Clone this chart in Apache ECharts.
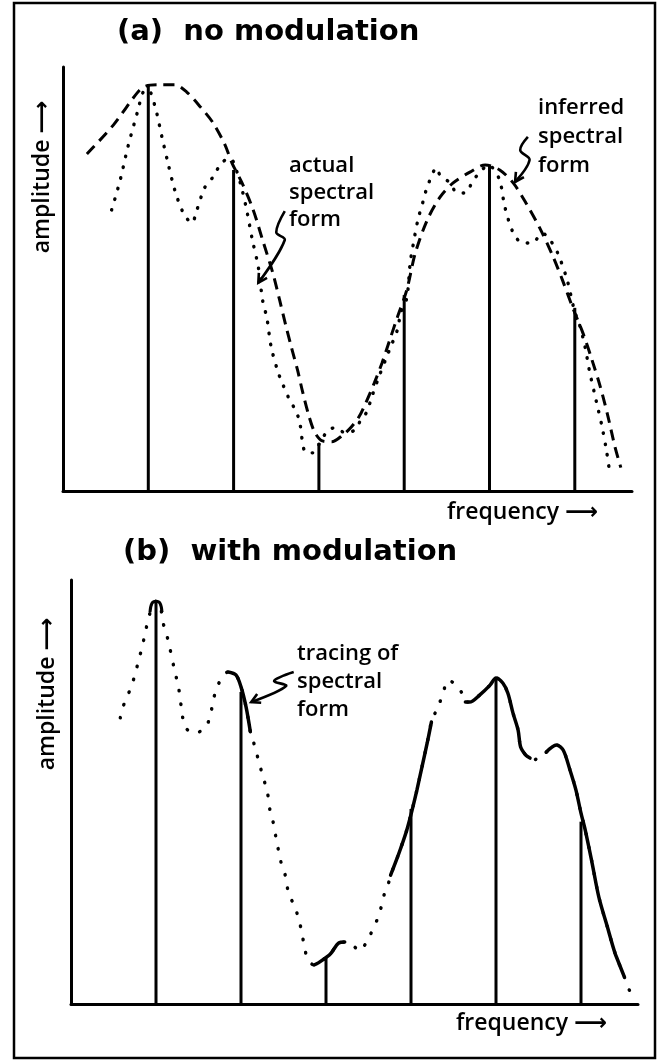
<!DOCTYPE html>
<html>
<head>
<meta charset="utf-8">
<title>Spectral form, with and without modulation</title>
<script src="https://cdn.jsdelivr.net/npm/echarts@6/dist/echarts.min.js"></script>
<style>
  html, body { margin: 0; padding: 0; background: #fff; }
  #chart { width: 664px; height: 1063px; }
</style>
</head>
<body>
<div id="chart"></div>
<script>
// frequency in units of line spacing, amplitude in % of axis height

// spectral lines
var lineFreq = [1, 2, 3, 4, 5, 6];
var lineAmpA = [95.8, 75.7, 11.3, 46.2, 76.9, 43.2];
var lineAmpB = [95.0, 73.6, 11.1, 46.0, 76.9, 43.0];

// (a) inferred spectral form (dashed)
var inferredFreqA = [0.28, 0.59, 0.87, 0.97, 1.14, 1.31, 1.45, 1.61, 1.76, 1.90, 1.98, 2.10, 2.23, 2.34, 2.46,
  2.54, 2.61, 2.68, 2.75, 2.81, 2.88, 2.95, 3.04, 3.15, 3.28, 3.38, 3.47, 3.55, 3.65, 3.74, 3.83, 3.92,
  4.03, 4.13, 4.27, 4.42, 4.57, 4.77, 4.95, 5.12, 5.28, 5.44, 5.59, 5.74, 5.86, 5.98, 6.10, 6.20, 6.30,
  6.39, 6.47, 6.54];
var inferredAmpA = [79.5, 86.3, 93.9, 95.5, 95.8, 95.8, 94.1, 90.6, 86.8, 81.6, 77.4, 72.6, 66.3, 59.2, 51.4,
  45.0, 39.2, 33.7, 28.5, 23.3, 17.9, 13.9, 11.8, 11.6, 13.2, 15.1, 17.5, 20.8, 25.5, 30.2, 35.6, 41.0,
  47.4, 56.1, 63.9, 69.3, 72.6, 75.2, 76.9, 75.7, 72.6, 67.5, 62.0, 55.5, 49.5, 43.0, 37.0, 31.0, 24.5,
  17.5, 10.5, 5.5];

// (a) actual spectral form (dotted)
var actualFreqA = [0.57, 0.67, 0.76, 0.88, 0.94, 1.00, 1.08, 1.16, 1.23, 1.31, 1.41, 1.51, 1.57, 1.66, 1.76,
  1.86, 1.96, 2.02, 2.10, 2.16, 2.22, 2.29, 2.34, 2.39, 2.44, 2.52, 2.57, 2.64, 2.71, 2.77, 2.84, 2.93,
  3.01, 3.11, 3.20, 3.31, 3.42, 3.49, 3.56, 3.62, 3.69, 3.79, 3.85, 3.92, 3.96, 4.03, 4.07, 4.10, 4.16,
  4.22, 4.27, 4.38, 4.42, 4.54, 4.62, 4.71, 4.81, 4.88, 4.99, 5.03, 5.12, 5.18, 5.28, 5.39, 5.50, 5.62,
  5.71, 5.80, 5.91, 6.00, 6.05, 6.12, 6.17, 6.23, 6.27, 6.32, 6.37, 6.41];
var actualAmpA = [66.3, 73.3, 81.1, 89.9, 94.1, 94.6, 90.6, 83.5, 77.4, 71.0, 65.6, 63.2, 66.3, 71.5, 74.1,
  77.4, 78.5, 76.4, 71.0, 65.6, 59.2, 52.8, 45.0, 40.8, 34.0, 28.1, 25.5, 22.2, 19.6, 16.7, 9.2, 9.0,
  11.3, 14.4, 14.9, 13.7, 14.4, 16.7, 18.6, 22.2, 26.2, 31.4, 34.4, 38.0, 42.0, 45.5, 53.8, 57.5, 63.9,
  68.2, 71.7, 76.2, 74.5, 72.6, 70.3, 70.3, 73.3, 75.0, 76.9, 76.4, 73.3, 67.0, 60.8, 58.5, 58.5, 60.8,
  59.2, 56.1, 49.8, 42.2, 39.6, 34.0, 28.5, 23.1, 19.6, 15.1, 9.7, 4.2];

// (b) actual spectral form, modulated
var actualFreqB = [0.58, 0.61, 0.66, 0.72, 0.76, 0.81, 0.85, 0.88, 0.91, 0.96, 1.00, 1.05, 1.08, 1.12, 1.16,
  1.21, 1.24, 1.27, 1.31, 1.34, 1.45, 1.58, 1.64, 1.68, 1.73, 1.79, 1.85, 1.94, 2.00, 2.06, 2.11, 2.14,
  2.18, 2.22, 2.26, 2.31, 2.34, 2.38, 2.41, 2.44, 2.47, 2.52, 2.56, 2.64, 2.68, 2.72, 2.74, 2.79, 2.86,
  2.91, 3.01, 3.06, 3.15, 3.22, 3.31, 3.40, 3.47, 3.53, 3.60, 3.65, 3.69, 3.74, 3.76, 3.82, 3.88, 3.95,
  4.01, 4.07, 4.13, 4.19, 4.24, 4.29, 4.34, 4.38, 4.44, 4.53, 4.60, 4.64, 4.69, 4.81, 4.93, 5.00, 5.08,
  5.14, 5.20, 5.26, 5.29, 5.35, 5.40, 5.44, 5.52, 5.59, 5.71, 5.79, 5.87, 5.94, 6.00, 6.05, 6.13, 6.21,
  6.31, 6.40, 6.51, 6.53, 6.58];
var actualAmpB = [67.5, 70.0, 72.4, 75.5, 78.3, 82.1, 85.4, 88.2, 90.8, 94.1, 95.0, 93.9, 90.1, 87.5, 84.2,
  79.5, 76.9, 74.1, 68.2, 65.3, 63.9, 65.1, 68.2, 72.2, 75.2, 77.6, 78.3, 77.6, 74.8, 70.0, 64.2, 62.3,
  59.4, 56.4, 53.5, 50.0, 45.8, 42.7, 39.4, 36.3, 33.5, 30.4, 26.2, 22.6, 19.8, 16.7, 13.9, 10.4, 9.2,
  9.7, 11.1, 12.0, 14.4, 14.6, 13.9, 12.5, 14.4, 16.7, 19.8, 22.9, 26.2, 28.8, 30.4, 33.5, 36.8, 41.0,
  45.5, 50.5, 56.0, 61.5, 66.5, 68.9, 71.2, 73.6, 76.4, 75.2, 73.3, 71.2, 71.2, 72.9, 75.2, 76.9, 75.7,
  73.3, 68.6, 64.6, 60.6, 58.7, 58.0, 57.5, 58.5, 59.4, 61.1, 59.9, 55.2, 50.5, 45.0, 41.0, 33.3, 25.2,
  18.2, 12.0, 6.4, 5.0, 2.8];
// stretches of (b) that are traced solid: first and last point index
var tracedRanges = [[26, 30], [48, 53], [62, 70], [77, 88], [91, 102]];

// annotation arrows, in data units of their panel
var actualArrowA = [[2.60, 66.0], [2.50, 61.0], [2.60, 59.2], [2.29, 49.1]];
var inferredArrowA = [[5.45, 83.5], [5.36, 80.4], [5.47, 78.1], [5.30, 72.9]];
var tracingArrowB = [[2.62, 78.3], [2.39, 76.2], [2.53, 75.0], [2.12, 71.2]];

var TITLE_FONT = '"DejaVu Sans", sans-serif';
var FONT = '"Open Sans", "DejaVu Sans", sans-serif';

function pairs(xs, ys) {
  return xs.map(function (x, i) { return [x, ys[i]]; });
}

function spikeRender(withArrow) {
  return function (params, api) {
    var base = api.coord([api.value(0), 0]);
    var top = api.coord([api.value(0), api.value(1)]);
    var children = [{
      type: 'line',
      shape: { x1: base[0], y1: base[1], x2: top[0], y2: top[1] },
      style: { stroke: '#000', lineWidth: 3 }
    }];
    if (withArrow && params.dataIndex === 0) {
      children.push({
        type: 'polyline',
        shape: { points: [[top[0] - 6, top[1] + 11], [top[0] - 4, top[1] + 2], [top[0], top[1]], [top[0] + 4, top[1] + 2], [top[0] + 6, top[1] + 11]], smooth: 0.4 },
        style: { stroke: '#000', lineWidth: 3, fill: 'none' }
      });
    }
    return { type: 'group', children: children };
  };
}

function axisSet(gridIndex, max) {
  return {
    gridIndex: gridIndex,
    type: 'value',
    min: 0,
    max: max,
    axisLine: { show: true, onZero: false, lineStyle: { color: '#000', width: 3 } },
    axisTick: { show: false },
    axisLabel: { show: false },
    splitLine: { show: false }
  };
}

var dotted = { color: '#000', width: 3.4, type: [0.5, 10.5], cap: 'round' };

var series = [
  { type: 'custom', xAxisIndex: 0, yAxisIndex: 0, renderItem: spikeRender(false), data: pairs(lineFreq, lineAmpA) },
  { type: 'line', xAxisIndex: 0, yAxisIndex: 0, data: pairs(inferredFreqA, inferredAmpA), showSymbol: false, smooth: 0.3,
    lineStyle: { color: '#000', width: 3, type: [11, 7] } },
  { type: 'line', xAxisIndex: 0, yAxisIndex: 0, data: pairs(actualFreqA, actualAmpA), showSymbol: false, smooth: 0.3,
    lineStyle: dotted },
  { type: 'custom', xAxisIndex: 1, yAxisIndex: 1, renderItem: spikeRender(true), data: pairs(lineFreq, lineAmpB) },
  { type: 'line', xAxisIndex: 1, yAxisIndex: 1, data: pairs(actualFreqB, actualAmpB), showSymbol: false, smooth: 0.3,
    lineStyle: { color: '#000', width: 3.4, type: [0.5, 13], cap: 'round' } }
];
tracedRanges.forEach(function (r) {
  series.push({
    type: 'line', xAxisIndex: 1, yAxisIndex: 1, showSymbol: false, smooth: 0.3, z: 3,
    data: pairs(actualFreqB.slice(r[0], r[1] + 1), actualAmpB.slice(r[0], r[1] + 1)),
    lineStyle: { color: '#000', width: 3.5, cap: 'round' }
  });
});

var option = {
  animation: false,
  backgroundColor: '#fff',
  title: [
    { text: '(a)  no modulation', left: 117, top: 18, padding: 0,
      textStyle: { fontFamily: TITLE_FONT, fontWeight: 'bold', fontSize: 29, color: '#000' } },
    { text: '(b)  with modulation', left: 123, top: 538, padding: 0,
      textStyle: { fontFamily: TITLE_FONT, fontWeight: 'bold', fontSize: 29, color: '#000' } }
  ],
  grid: [
    { left: 63, top: 67, width: 569, height: 424 },
    { left: 71, top: 580, width: 567, height: 424 }
  ],
  xAxis: [axisSet(0, 569 / 85.3), axisSet(1, 567 / 85)],
  yAxis: [axisSet(0, 100), axisSet(1, 100)],
  series: series
};

var chart = echarts.init(document.getElementById('chart'));
chart.setOption(option);

function arrowGraphic(gridIndex, pts) {
  var px = pts.map(function (p) { return chart.convertToPixel({ gridIndex: gridIndex }, p); });
  var tip = px[px.length - 1], prev = px[px.length - 2];
  var ang = Math.atan2(prev[1] - tip[1], prev[0] - tip[0]);
  var len = 10, spread = 0.5;
  var barb1 = [tip[0] + len * Math.cos(ang - spread), tip[1] + len * Math.sin(ang - spread)];
  var barb2 = [tip[0] + len * Math.cos(ang + spread), tip[1] + len * Math.sin(ang + spread)];
  return [
    { type: 'polyline', shape: { points: px, smooth: 0.35 }, style: { stroke: '#000', lineWidth: 2.6, fill: 'none' } },
    { type: 'polyline', shape: { points: [barb1, tip, barb2] }, style: { stroke: '#000', lineWidth: 2.6, fill: 'none' } }
  ];
}

function label(text, x, y, size, extraStyle, rotation) {
  var style = { text: text, font: '600 ' + size + 'px ' + FONT, fill: '#000', textAlign: 'left', textVerticalAlign: 'middle' };
  for (var k in (extraStyle || {})) { style[k] = extraStyle[k]; }
  return { type: 'text', x: x, y: y, rotation: rotation || 0, style: style };
}

var graphics = [
  { type: 'rect', shape: { x: 14, y: 3, width: 641, height: 1055 }, style: { fill: 'none', stroke: '#000', lineWidth: 2.5 } },
  label('amplitude \u27F6', 42, 177, 23, { textAlign: 'center' }, Math.PI / 2),
  label('amplitude \u27F6', 47, 694, 23, { textAlign: 'center' }, Math.PI / 2),
  label('frequency \u27F6', 447, 512, 23),
  label('frequency \u27F6', 456, 1023, 23),
  label('actual\nspectral\nform', 289, 193, 22, { lineHeight: 27 }),
  label('inferred\nspectral\nform', 538, 137, 22, { lineHeight: 29 }),
  label('tracing of\nspectral\nform', 297, 682, 22, { lineHeight: 28 })
]
  .concat(arrowGraphic(0, actualArrowA))
  .concat(arrowGraphic(0, inferredArrowA))
  .concat(arrowGraphic(1, tracingArrowB));

chart.setOption({ graphic: graphics });
</script>
</body>
</html>
